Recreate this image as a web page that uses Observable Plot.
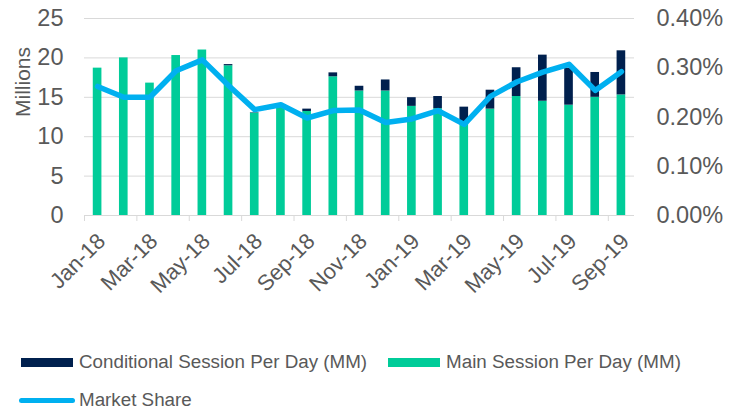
<!DOCTYPE html>
<html><head><meta charset="utf-8">
<script src="https://cdn.jsdelivr.net/npm/d3@7"></script>
<script src="https://cdn.jsdelivr.net/npm/@observablehq/plot@0.6"></script>
<style>
body{margin:0;background:#fff;font-family:"Liberation Sans",Arial,sans-serif;color:#595959;}
#wrap{position:relative;width:741px;height:409px;overflow:hidden;}
.row{position:absolute;left:0;display:flex;align-items:center;font-size:18.8px;white-space:nowrap;line-height:20px;}
.sw{display:inline-block;}
</style>
</head><body>
<div id="wrap"><div id="chart"></div>
<div class="row" style="top:352px;">
  <span class="sw" style="margin-left:21px;width:52px;height:9px;background:#00204E;"></span>
  <span style="margin-left:6px;">Conditional Session Per Day (MM)</span>
  <span class="sw" style="margin-left:21px;width:52px;height:9px;background:#00CC99;"></span>
  <span style="margin-left:6px;">Main Session Per Day (MM)</span>
</div>
<div class="row" style="top:390px;">
  <span class="sw" style="margin-left:19px;width:56px;height:5px;border-radius:3px;background:#00B0F0;"></span>
  <span style="margin-left:4px;">Market Share</span>
</div>
</div>
<script>
const months = ["Jan-18","Feb-18","Mar-18","Apr-18","May-18","Jun-18","Jul-18","Aug-18","Sep-18","Oct-18","Nov-18","Dec-18",
                "Jan-19","Feb-19","Mar-19","Apr-19","May-19","Jun-19","Jul-19","Aug-19","Sep-19"];
const mainSession = [18.7, 20.0, 16.8, 20.3, 21.0, 19.0, 13.0, 13.8, 13.2, 17.6, 15.8, 15.8,
                     13.85, 13.55, 11.8, 13.5, 15.1, 14.5, 14.0, 15.0, 15.3];
const conditionalSession = [0, 0, 0, 0, 0, 0.15, 0.05, 0, 0.3, 0.5, 0.6, 1.4,
                            1.1, 1.55, 1.95, 2.4, 3.65, 5.85, 4.7, 3.15, 5.6];
const marketShare = [0.262, 0.240, 0.240, 0.294, 0.316, 0.264, 0.215, 0.225, 0.198, 0.213, 0.214, 0.189,
                     0.196, 0.213, 0.185, 0.242, 0.271, 0.291, 0.307, 0.254, 0.292];
const leftTicks = [0, 5, 10, 15, 20, 25];
const rightTicks = [0, 0.10, 0.20, 0.30, 0.40];
const seriesNames = ["Conditional Session Per Day (MM)", "Main Session Per Day (MM)", "Market Share"];

const navy = "#00204E", green = "#00CC99", blue = "#00B0F0", grid = "#D9D9D9", text = "#595959";
const k = leftTicks[leftTicks.length - 1] / rightTicks[rightTicks.length - 1];
const idx = months.map((_, i) => i);
const bars = [];
idx.forEach(i => {
  bars.push({i, s: seriesNames[1], y1: 0, y2: mainSession[i]});
  bars.push({i, s: seriesNames[0], y1: mainSession[i], y2: mainSession[i] + conditionalSession[i]});
});
const half = 0.165;

const chart = Plot.plot({
  width: 741, height: 340,
  marginTop: 18, marginBottom: 125, marginLeft: 84, marginRight: 107,
  x: {type: "linear", domain: [-0.5, months.length - 0.5]},
  y: {domain: [0, 25]},
  style: {fontFamily: "Liberation Sans, Arial, sans-serif", color: text, background: "white", overflow: "visible"},
  marks: [
    Plot.gridY(leftTicks, {stroke: grid, strokeOpacity: 1}),
    Plot.rectY(bars, {x1: d => d.i - half, x2: d => d.i + half, y1: "y1", y2: "y2",
      fill: d => d.s === seriesNames[1] ? green : navy}),
    Plot.axisY({ticks: leftTicks, tickSize: 0, tickPadding: 21, fontSize: 23.5, label: null}),
    Plot.axisY({anchor: "right", ticks: rightTicks.map(v => v * k), tickFormat: v => (v / k).toFixed(2) + "%",
      tickSize: 0, tickPadding: 22, fontSize: 23.5, label: null}),
    Plot.ruleY([0], {stroke: grid}),
    Plot.axisX({ticks: idx.filter(i => i % 2 === 0).map(i => i - 0.5), tickFormat: () => "",
      tickSize: 6, stroke: grid, strokeOpacity: 1, label: null}),
    Plot.axisX({ticks: idx.filter(i => i % 2 === 0), tickFormat: i => months[i], tickSize: 0, tickPadding: 22,
      dx: 4, tickRotate: -45, fontSize: 22, label: null}),
    Plot.line(idx, {x: i => i, y: i => marketShare[i] * k, stroke: blue, strokeWidth: 5.5, strokeLinejoin: "round"}),
    Plot.text(["Millions"], {frameAnchor: "left", dx: -61, rotate: -90, fontSize: 21, fill: text})
  ]
});
document.getElementById("chart").appendChild(chart);
</script>
</body></html>
